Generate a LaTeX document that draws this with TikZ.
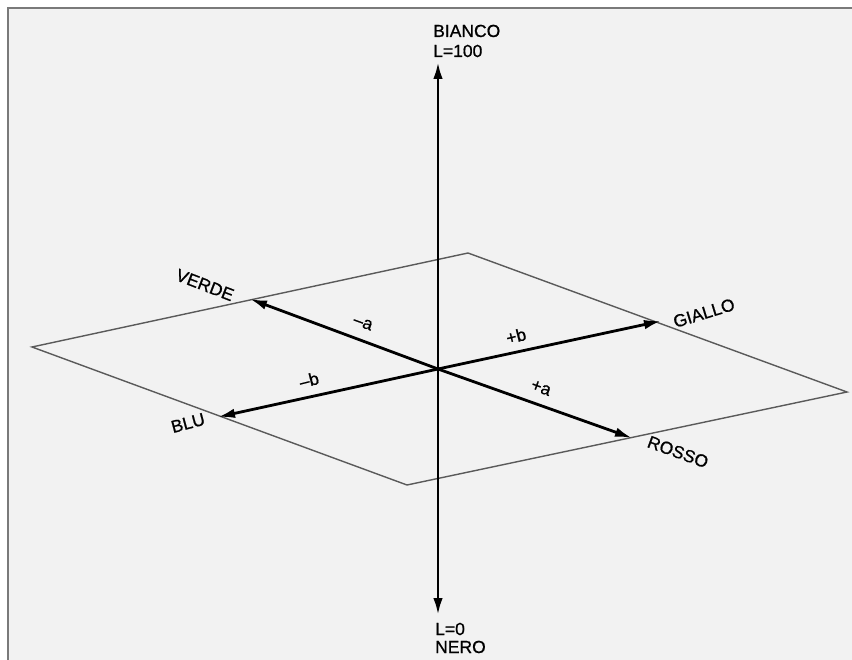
\documentclass[tikz,border=0pt]{standalone}
\usepackage{fontspec}
\setmainfont{Liberation Sans}[FakeBold=0.8]
\usetikzlibrary{arrows.meta}
\definecolor{paper}{HTML}{F2F2F2}
\definecolor{framegray}{HTML}{7A7A7A}
\definecolor{planegray}{HTML}{5A5A5A}
\tikzset{
  axis/.style={line width=2.8pt, black, -{Latex[length=17pt,width=9.5pt]}},
  plane/.style={line width=1.4pt, planegray, line join=miter},
  lbl/.style={font=\fontsize{17.5}{20}\selectfont, inner sep=0pt},
}
\begin{document}
\begin{tikzpicture}[x=1pt,y=-1pt]
\useasboundingbox (0,0) rectangle (852,660);
\fill[white] (0,0) rectangle (852,660);
\fill[paper] (8,8) rectangle (852,660);
\draw[framegray, line width=2.4pt] (8,660) -- (8,8) -- (852,8);
% plane
\coordinate (pt) at (468,253);
\coordinate (pr) at (847,392);
\coordinate (pb) at (407,485);
\coordinate (pl) at (32,347);
\draw[plane] (pt) -- (pr) -- (pb) -- (pl) -- cycle;
% axes
\coordinate (o) at (438,369);
\coordinate (top) at (438,62);
\coordinate (bot) at (438,615);
\coordinate (verde) at (250,299);
\coordinate (blu) at (218,417);
\coordinate (giallo) at (661,321);
\coordinate (rosso) at (632,438);
\draw[axis] (o) -- (top);
\draw[axis] (o) -- (bot);
\draw[axis] (o) -- (verde);
\draw[axis] (o) -- (blu);
\draw[axis] (o) -- (giallo);
\draw[axis] (o) -- (rosso);
% labels
\node[lbl, anchor=base west] (bianco) at (433,37) {BIANCO};
\node[lbl, anchor=base west] (l100) at (433,57) {L=100};
\node[lbl, anchor=base west] (l0) at (435,635) {L=0};
\node[lbl, anchor=base west] (nero) at (435,653) {NERO};
\node[lbl, rotate=-21] (tverde) at (205,285) {VERDE};
\node[lbl, rotate=15] (tblu) at (188,423) {BLU};
\node[lbl, rotate=17] (tgiallo) at (704,313) {GIALLO};
\node[lbl, rotate=-20] (trosso) at (678,452) {ROSSO};
\node[lbl, rotate=-20] (ma) at (363,323) {–a};
\node[lbl, rotate=14] (mb) at (309,380) {–b};
\node[lbl, rotate=14] (pbl) at (516,336) {+b};
\node[lbl, rotate=-20] (pa) at (541,388) {+a};
\end{tikzpicture}
\end{document}
